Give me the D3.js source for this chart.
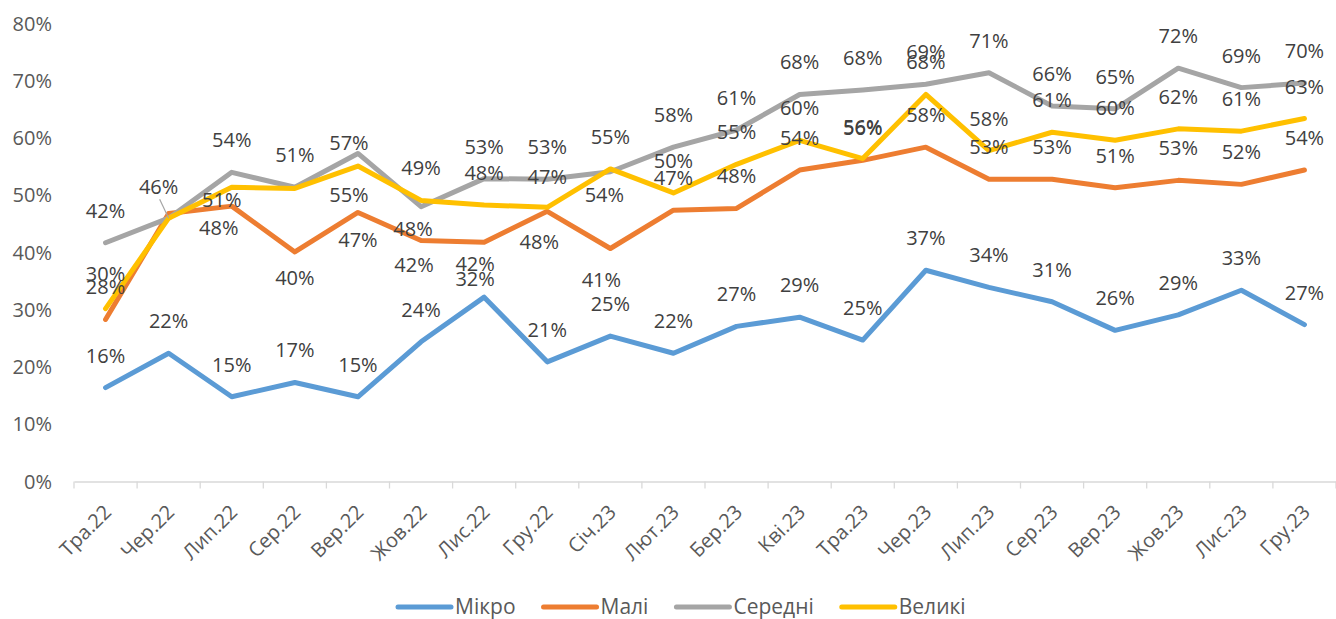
<!DOCTYPE html>
<html>
<head>
<meta charset="utf-8">
<script src="https://cdn.jsdelivr.net/npm/d3@7"></script>
<style>
  body { margin: 0; background: #fff; }
  svg { display: block; font-family: "Open Sans", sans-serif; }
</style>
</head>
<body>
<div id="chart"></div>
<script>
const width = 1336,
  height = 619;

// months on the x axis
const categories = ["Тра.22", "Чер.22", "Лип.22", "Сер.22", "Вер.22", "Жов.22", "Лис.22", "Гру.22", "Січ.23", "Лют.23",
  "Бер.23", "Кві.23", "Тра.23", "Чер.23", "Лип.23", "Сер.23", "Вер.23", "Жов.23", "Лис.23", "Гру.23"];

// values in %
const micro = [16.4, 22.4, 14.8, 17.3, 14.8, 24.4, 32.2, 20.9, 25.4, 22.4, 27.1, 28.7, 24.7, 36.9, 33.9, 31.4, 26.4, 29.1, 33.4, 27.4];
const small = [28.3, 46.8, 48.1, 40.1, 47.0, 42.1, 41.8, 47.2, 40.7, 47.4, 47.7, 54.4, 56.1, 58.4, 52.8, 52.8, 51.3, 52.6, 51.9, 54.4];
const medium = [41.7, 46.0, 54.0, 51.4, 57.3, 48.0, 52.9, 52.8, 54.1, 58.4, 61.4, 67.6, 68.4, 69.4, 71.4, 65.6, 65.1, 72.2, 68.8, 69.6];
const large = [30.2, 46.0, 51.4, 51.2, 55.1, 49.1, 48.3, 47.9, 54.6, 50.4, 55.4, 59.6, 56.4, 67.6, 57.8, 61.0, 59.6, 61.6, 61.2, 63.4];

const yTicks = [0, 10, 20, 30, 40, 50, 60, 70, 80];

const series = [
  { name: "Мікро", values: micro, color: "#5b9bd5" },
  { name: "Малі", values: small, color: "#ed7d31" },
  { name: "Середні", values: medium, color: "#a5a5a5" },
  { name: "Великі", values: large, color: "#ffc000" }
];

// data label placement, [dx, dy] from the point; default is above
const labelShift = {
  "Мікро": { 6: [-9, -18] },
  "Малі": { 2: [-13, 22], 3: [0, 26], 4: [0, 28], 5: [-7, 25], 6: [-9, 22], 7: [0, -34], 8: [-9, 32] },
  "Середні": { 1: [-10, -31], 4: [-9, -10], 5: [-8, 22], 8: [-6, 23] },
  "Великі": { 0: [0, -35], 2: [-10, 13], 4: [-9, 29], 7: [-8, 35] }
};
const hiddenLabels = { "Малі": [1], "Великі": [1, 3] };

const svg = d3.select("#chart").append("svg").attr("width", width).attr("height", height);

const x = d3.scaleBand().domain(categories).range([74, 1336]);
const y = d3.scaleLinear().domain([0, 80]).range([481.5, 23.5]);
const cx = c => x(c) + x.bandwidth() / 2;

// y axis labels, no line
svg
  .append("g")
  .selectAll("text")
  .data(yTicks)
  .join("text")
  .attr("x", 52)
  .attr("y", d => y(d))
  .attr("dy", "0.35em")
  .attr("text-anchor", "end")
  .attr("fill", "#595959")
  .attr("font-size", 20)
  .text(d => d + "%");

// x axis
const xAxis = svg
  .append("g")
  .attr("transform", `translate(0,${y(0)})`)
  .call(d3.axisBottom(x).tickSize(0).tickFormat(""));
xAxis.select(".domain").attr("stroke", "#d9d9d9").attr("stroke-width", 1.3);

svg
  .append("g")
  .selectAll("line")
  .data(d3.range(categories.length + 1))
  .join("line")
  .attr("x1", i => 74 + i * x.step())
  .attr("x2", i => 74 + i * x.step())
  .attr("y1", y(0))
  .attr("y2", y(0) + 7)
  .attr("stroke", "#d9d9d9")
  .attr("stroke-width", 1.3);

svg
  .append("g")
  .selectAll("text")
  .data(categories)
  .join("text")
  .attr("transform", d => `translate(${cx(d) + 2},${y(0) + 27}) rotate(-45)`)
  .attr("text-anchor", "end")
  .attr("dy", "0.35em")
  .attr("fill", "#595959")
  .attr("font-size", 20)
  .text(d => d);

// lines
const line = d3
  .line()
  .x((d, i) => cx(categories[i]))
  .y(d => y(d));

svg
  .append("g")
  .selectAll("path")
  .data(series)
  .join("path")
  .attr("d", s => line(s.values))
  .attr("fill", "none")
  .attr("stroke", s => s.color)
  .attr("stroke-width", 5)
  .attr("stroke-linejoin", "round")
  .attr("stroke-linecap", "round");

// leader line for the moved label of Середні at Чер.22
svg
  .append("line")
  .attr("x1", cx(categories[1]) - 9)
  .attr("y1", y(medium[1]) - 19)
  .attr("x2", cx(categories[1]))
  .attr("y2", y(medium[1]))
  .attr("stroke", "#a5a5a5")
  .attr("stroke-width", 1.2);

// data labels
const labels = [];
series.forEach(s => {
  s.values.forEach((v, i) => {
    if ((hiddenLabels[s.name] || []).includes(i)) return;
    const shift = (labelShift[s.name] || {})[i] || [0, -32];
    labels.push({ v, x: cx(categories[i]) + shift[0], y: y(v) + shift[1] });
  });
});

svg
  .append("g")
  .selectAll("text")
  .data(labels)
  .join("text")
  .attr("x", d => d.x)
  .attr("y", d => d.y)
  .attr("dy", "0.35em")
  .attr("text-anchor", "middle")
  .attr("fill", "#404040")
  .attr("font-size", 20)
  .text(d => Math.round(d.v) + "%");

// legend
const legend = svg.append("g").attr("transform", "translate(0,607)");
let lx = 398;
series.forEach(s => {
  legend
    .append("line")
    .attr("x1", lx)
    .attr("x2", lx + 53)
    .attr("stroke", s.color)
    .attr("stroke-width", 5)
    .attr("stroke-linecap", "round");
  const t = legend
    .append("text")
    .attr("x", lx + 57)
    .attr("dy", "0.35em")
    .attr("fill", "#595959")
    .attr("font-size", 21)
    .text(s.name);
  lx += 57 + t.node().getComputedTextLength() + 28;
});
</script>
</body>
</html>
